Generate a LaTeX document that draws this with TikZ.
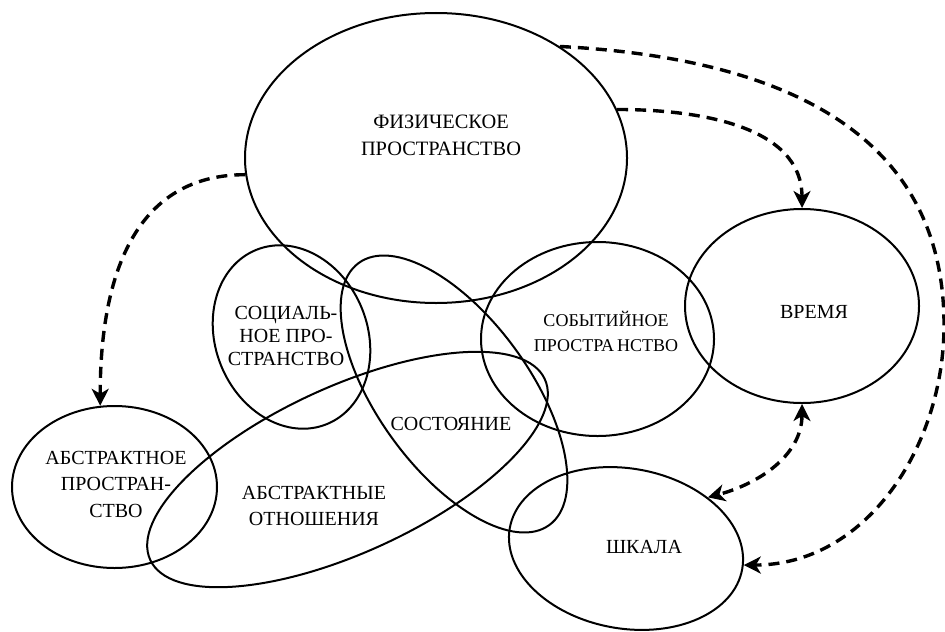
\documentclass[tikz,border=0pt]{standalone}
\usepackage{fontspec}
\setmainfont{Liberation Serif}
\usetikzlibrary{arrows.meta, shapes.geometric}

\begin{document}
\begin{tikzpicture}[
        x=0.5pt, y=-0.5pt,
        >={Stealth[length=8.5pt, width=8.5pt, inset=2.5pt]},
        area/.style={ellipse, draw, line width=1pt, inner sep=0pt},
        caption/.style={align=center, inner sep=0pt, font=\fontsize{10}{13}\selectfont},
        link/.style={->, line width=1.7pt, dash pattern=on 5.5pt off 3.5pt}
    ]
        \useasboundingbox (0,0) rectangle (945,631);

        % Areas
        \node[area, minimum width=191pt, minimum height=145pt] (phys) at (436,158) {};
        \node[area, minimum width=76pt, minimum height=94pt, rotate=22] (social) at (291.5,337) {};
        \node[area, minimum width=162pt, minimum height=76pt, rotate=-54] (state) at (454,394) {};
        \node[area, minimum width=217pt, minimum height=83pt, rotate=24.6] (rel) at (347.5,469.5) {};
        \node[area, minimum width=102.5pt, minimum height=81pt] (abs) at (114.5,487) {};
        \node[area, minimum width=116.5pt, minimum height=97pt] (event) at (597.5,339) {};
        \node[area, minimum width=117pt, minimum height=97pt] (time) at (802,306) {};
        \node[area, minimum width=118pt, minimum height=80pt, rotate=-10] (scale) at (626,548.5) {};

        % Captions
        \node[caption, font=\fontsize{10.2}{13.5}\selectfont] (physT) at (441,135) {ФИЗИЧЕСКОЕ\\ПРОСТРАНСТВО};
        \node[caption, font=\fontsize{10}{11.3}\selectfont] (socialT) at (286,336) {СОЦИАЛЬ-\\НОЕ ПРО-\\СТРАНСТВО};
        \node[caption] (stateT) at (451,424) {СОСТОЯНИЕ};
        \node[caption] (relT) at (314,506) {АБСТРАКТНЫЕ\\ОТНОШЕНИЯ};
        \node[caption, font=\fontsize{10}{13.25}\selectfont] (absT) at (116,484) {АБСТРАКТНОЕ\\ПРОСТРАН-\\СТВО};
        \node[caption, font=\fontsize{9}{12.5}\selectfont] (eventT) at (606,331) {СОБЫТИЙНОЕ\\ПРОСТРА\kern1.5pt НСТВО};
        \node[caption] (timeT) at (814,312) {ВРЕМЯ};
        \node[caption] (scaleT) at (644,547) {ШКАЛА};

        % Links
        \coordinate (rim) at (944,325);
        \draw[link] (phys.185) to[out=180, in=90, looseness=1.1] (abs.100);
        \draw[link] (phys.15) to[out=0, in=90] (time.90);
        \draw[link] (phys.42) to[out=-3, in=90, looseness=1.1] (rim) to[out=-90, in=0] (scale.2);
        \draw[link, <->] (time.-90) to[out=-90, in=15] (scale.42);
    \end{tikzpicture}
\end{document}
